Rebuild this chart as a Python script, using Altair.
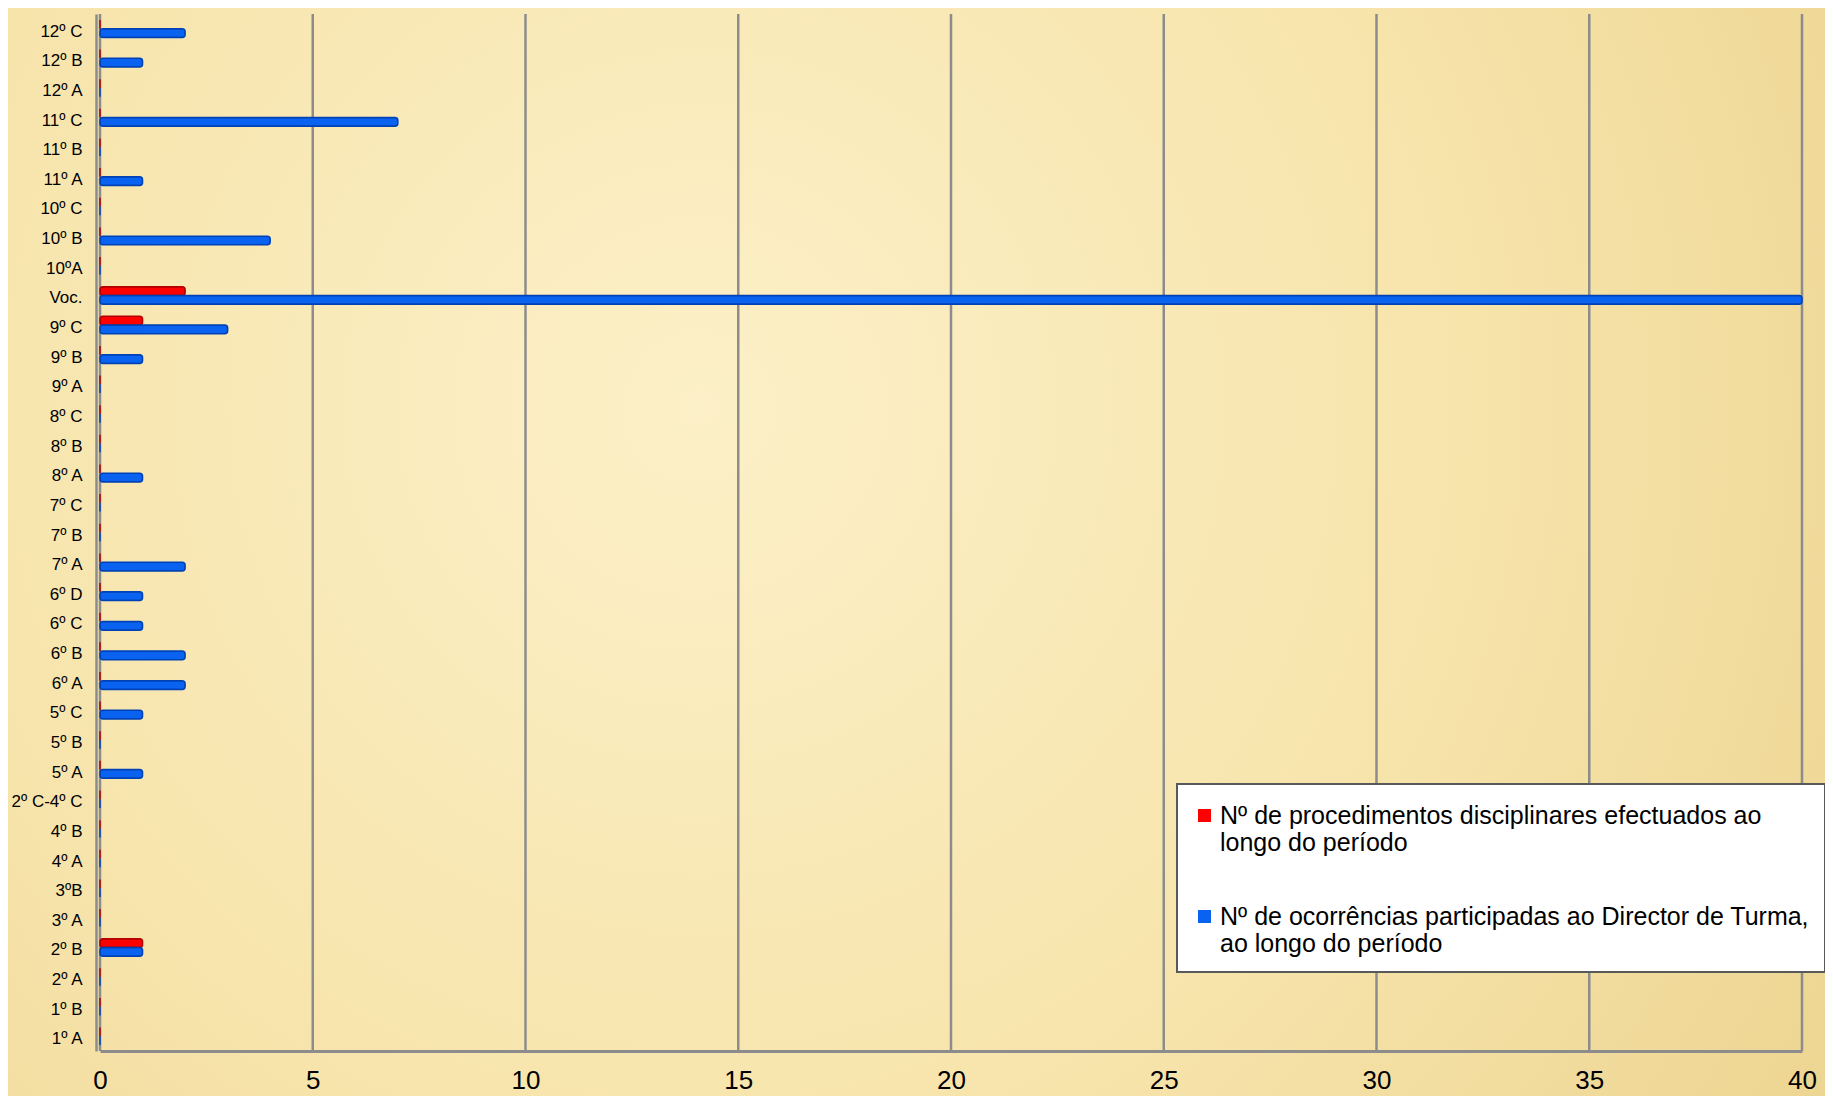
import altair as alt
import pandas as pd

categories = ["12º C", "12º B", "12º A", "11º C", "11º B", "11º A", "10º C", "10º B",
              "10ºA", "Voc.", "9º C", "9º B", "9º A", "8º C", "8º B", "8º A", "7º C",
              "7º B", "7º A", "6º D", "6º C", "6º B", "6º A", "5º C", "5º B", "5º A",
              "2º C-4º C", "4º B", "4º A", "3ºB", "3º A", "2º B", "2º A", "1º B", "1º A"]

procedimentos = [0, 0, 0, 0, 0, 0, 0, 0, 0, 2, 1, 0, 0, 0, 0, 0, 0, 0, 0, 0,
                 0, 0, 0, 0, 0, 0, 0, 0, 0, 0, 0, 1, 0, 0, 0]
ocorrencias = [2, 1, 0, 7, 0, 1, 0, 4, 0, 40, 3, 1, 0, 0, 0, 1, 0, 0, 2, 1,
               1, 2, 2, 1, 0, 1, 0, 0, 0, 0, 0, 1, 0, 0, 0]

series_names = ["Nº de procedimentos disciplinares efectuados ao longo do período",
                "Nº de ocorrências participadas ao Director de Turma, ao longo do período"]
legend_lines = [["Nº de procedimentos disciplinares efectuados ao", "longo do período"],
                ["Nº de ocorrências participadas ao Director de Turma,", "ao longo do período"]]
series_colors = ["#ff0000", "#0a62f0"]
series_strokes = ["#b00000", "#0042b5"]
x_ticks = [0, 5, 10, 15, 20, 25, 30, 35, 40]

rows = []
for i, c in enumerate(categories):
    rows.append({"turma": c, "serie": series_names[0], "valor": procedimentos[i]})
    rows.append({"turma": c, "serie": series_names[1], "valor": ocorrencias[i]})
df = pd.DataFrame(rows)
ticks_df = pd.DataFrame({"t": x_ticks})


def arr(lines):
    return "[" + ", ".join("'" + s + "'" for s in lines) + "]"


label_expr = ("datum.label == '" + series_names[0] + "' ? " + arr(legend_lines[0])
              + " : " + arr(legend_lines[1]))

W, H = 1702, 1037
PAD = {"left": 92, "top": 6, "right": 23, "bottom": 45}
GRID = "#8c8c8c"

bg_grad = alt.RadialGradient(
    gradient="radial",
    x1=0.38, y1=0.42, r1=0,
    x2=0.38, y2=0.42, r2=0.85,
    stops=[alt.GradientStop(offset=0, color="#fcf0c8"),
           alt.GradientStop(offset=0.5, color="#f7e4ab"),
           alt.GradientStop(offset=1, color="#e9cf88")],
)

x_scale = alt.Scale(domain=[0, 40], nice=False)
x_axis = alt.Axis(values=x_ticks, grid=False, domainColor=GRID, domainWidth=3,
                  ticks=False, labelFontSize=26, labelColor="#000000",
                  labelPadding=16, labelFlush=False, zindex=1)

bg = alt.Chart(pd.DataFrame({"k": [0]})).mark_rect(clip=False, color=bg_grad).encode(
    x=alt.value(-PAD["left"]), x2=alt.value(W + PAD["right"]),
    y=alt.value(-PAD["top"]), y2=alt.value(H + PAD["bottom"]),
)

grid = alt.Chart(ticks_df).mark_rule(color=GRID, strokeWidth=2.5).encode(
    x=alt.X("t:Q", scale=x_scale, axis=x_axis, title=None),
)

bars = alt.Chart(df).mark_bar(cornerRadius=3, strokeWidth=1.5).encode(
    y=alt.Y("turma:N", sort=categories, title=None,
            scale=alt.Scale(paddingInner=0.41, paddingOuter=0.2),
            axis=alt.Axis(labelFontSize=17, labelColor="#000000", ticks=False,
                          domainColor=GRID, domainWidth=2.5, labelPadding=14,
                          labelOffset=3, offset=4, zindex=1)),
    yOffset=alt.YOffset("serie:N", sort=series_names,
                        scale=alt.Scale(domain=series_names, paddingInner=0)),
    x=alt.X("valor:Q", title=None, scale=x_scale, axis=x_axis),
    color=alt.Color("serie:N",
                    scale=alt.Scale(domain=series_names, range=series_colors),
                    legend=alt.Legend(orient="none", legendX=1077, legendY=770,
                                      title=" ", titleFontSize=4, titlePadding=0,
                                      fillColor="#ffffff", strokeColor="#595959",
                                      padding=15, labelFontSize=25, labelLimit=900,
                                      labelColor="#000000",
                                      symbolType="square", symbolSize=170,
                                      symbolStrokeWidth=0, rowPadding=48,
                                      labelExpr=label_expr, labelOffset=3)),
    stroke=alt.Stroke("serie:N",
                      scale=alt.Scale(domain=series_names, range=series_strokes),
                      legend=None),
)

chart = alt.layer(bg, grid, bars).properties(
    width=W, height=H,
    padding=PAD,
    autosize=alt.AutoSizeParams(type="none"),
    background="#f0dc9f",
).configure(font="Liberation Sans").configure_view(stroke=None).configure_legend(strokeWidth=2)

chart.save("out.html", embed_options={"renderer": "svg", "actions": False})
